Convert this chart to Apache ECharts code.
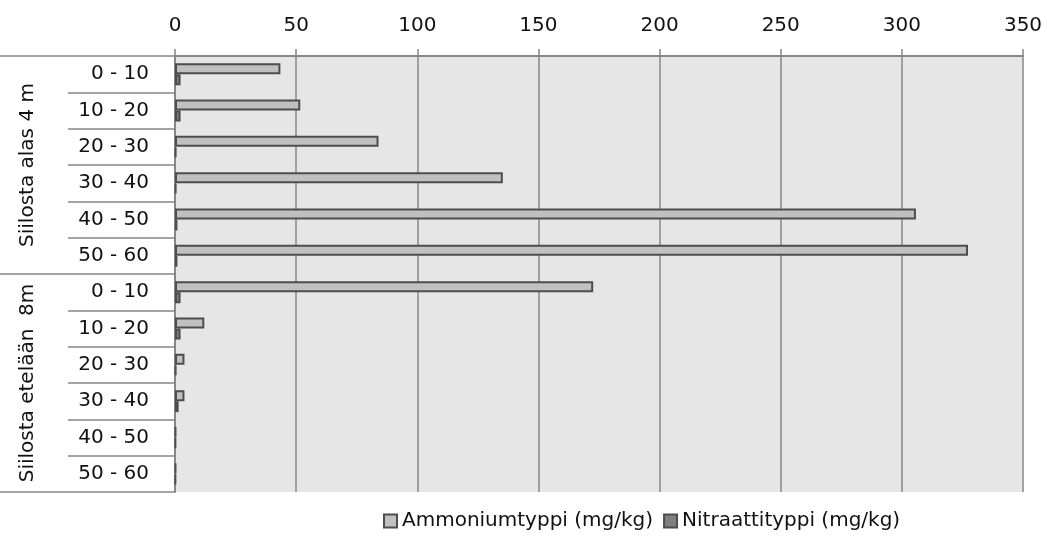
<!DOCTYPE html>
<html>
<head>
<meta charset="utf-8">
<script src="https://cdn.jsdelivr.net/npm/echarts@6/dist/echarts.min.js"></script>
<style>
  html, body { margin: 0; padding: 0; background: #ffffff; }
  #chart { width: 1047px; height: 554px; }
</style>
</head>
<body>
<div id="chart"></div>
<script>
// Depth intervals (cm) for each sampling point
const depths = ['0 - 10', '10 - 20', '20 - 30', '30 - 40', '40 - 50', '50 - 60',
                '0 - 10', '10 - 20', '20 - 30', '30 - 40', '40 - 50', '50 - 60'];
// Sampling points (each covers six depth intervals)
const sites = ['Siilosta alas 4 m', 'Siilosta etelään  8m'];
// Measured values (mg/kg)
const ammonium = [43.5, 51.7, 84, 135.3, 305.8, 327.3, 172.6, 12.1, 3.9, 3.9, 0.4, 0.4];
const nitrate  = [2.3, 2.3, 0.5, 0.5, 1, 1, 2.3, 2.3, 0.5, 1.5, 0.3, 0.3];
const seriesNames = ['Ammoniumtyppi (mg/kg)', 'Nitraattityppi (mg/kg)'];
// Value axis ticks
const xMin = 0, xMax = 350, xStep = 50;

const FONT = 'DejaVu Sans';
const LINE = '#878787';
const TEXT = '#111111';

const chart = echarts.init(document.getElementById('chart'), null, { renderer: 'canvas' });
chart.setOption({
  animation: false,
  textStyle: { fontFamily: FONT },
  grid: {
    left: 175, right: 24, top: 56, bottom: 62,
    show: true, backgroundColor: '#e6e6e6', borderWidth: 0
  },
  legend: {
    bottom: 18, left: 378,
    itemWidth: 13, itemHeight: 13, itemGap: 10,
    icon: 'rect',
    textStyle: { fontFamily: FONT, fontSize: 20, color: TEXT, padding: [0, 0, 0, 0] },
    data: seriesNames
  },
  xAxis: {
    type: 'value', position: 'top',
    min: xMin, max: xMax, interval: xStep,
    axisLine: { show: true, lineStyle: { color: LINE, width: 2 } },
    axisTick: { show: true, length: 7, lineStyle: { color: LINE, width: 1.5 } },
    axisLabel: { fontFamily: FONT, fontSize: 20, color: TEXT, margin: 20 },
    splitLine: { show: true, lineStyle: { color: LINE, width: 1.5 } }
  },
  yAxis: [
    {
      type: 'category', inverse: true, data: depths, position: 'left',
      axisLine: { show: true, lineStyle: { color: LINE, width: 2 } },
      axisTick: { show: true, interval: 0, length: 107, lineStyle: { color: LINE, width: 1.5 } },
      axisLabel: { interval: 0, fontFamily: FONT, fontSize: 20, color: TEXT, margin: 26 },
      splitLine: { show: false }
    },
    {
      type: 'category', inverse: true, data: sites, position: 'left',
      axisLine: { show: false },
      axisTick: { show: true, interval: 0, length: 175, lineStyle: { color: LINE, width: 1.5 } },
      axisLabel: { interval: 0, fontFamily: FONT, fontSize: 20, color: TEXT, rotate: 90, margin: 147,
                   align: 'center', verticalAlign: 'middle' },
      splitLine: { show: false }
    }
  ],
  series: [
    {
      name: seriesNames[0], type: 'bar', yAxisIndex: 0, data: ammonium,
      barWidth: 11, barGap: '0%',
      itemStyle: { color: '#c0c0c0', borderColor: '#4d4d4d', borderWidth: 2 }
    },
    {
      name: seriesNames[1], type: 'bar', yAxisIndex: 0, data: nitrate,
      barWidth: 11, barGap: '0%',
      itemStyle: { color: '#808080', borderColor: '#4d4d4d', borderWidth: 2 }
    }
  ]
});
</script>
</body>
</html>
